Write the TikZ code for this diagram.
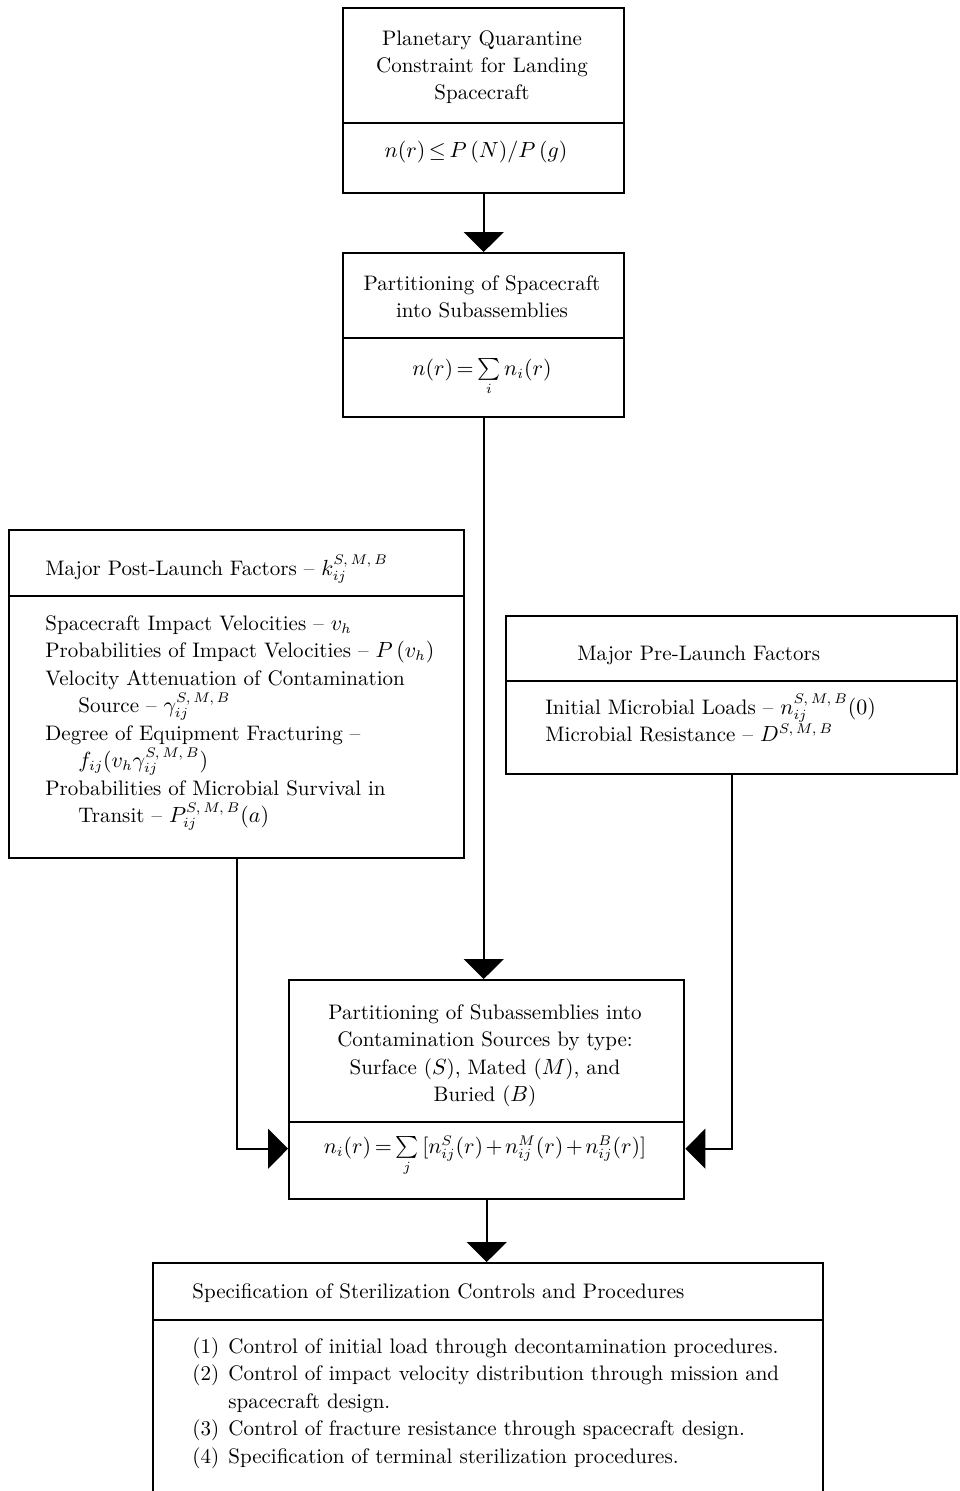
\documentclass[tikz,border=0pt]{standalone}
\usepackage{amsmath}
\usepackage{tikz}
\usetikzlibrary{arrows.meta}

\newcommand\boxfont{\fontsize{10.5}{13.75}\selectfont\lineskiplimit=-30pt\thickmuskip=3mu\medmuskip=2mu\relax}
\tikzset{
  frame/.style={draw,line width=2.4pt,inner sep=0pt,anchor=north west},
  divider/.style={line width=2.4pt},
  link/.style={line width=1.8pt,-{Triangle[width=40pt,length=20pt]}},
  ctxt/.style={inner sep=0pt,scale=2,anchor=base,text width=#1,align=center,font=\boxfont},
  ltxt/.style={inner sep=0pt,scale=2,anchor=base west,text width=#1,align=left,font=\boxfont},
}

\begin{document}
\begin{tikzpicture}[x=1pt,y=1pt]
  \useasboundingbox (0,0) rectangle (960,-1491);
  % boxes
  \node[frame,minimum width=281pt,minimum height=185pt] (quar) at (342,-7) {};
  \node[frame,minimum width=281pt,minimum height=164pt] (part) at (342,-252) {};
  \node[frame,minimum width=455pt,minimum height=328pt] (post) at (8,-529) {};
  \node[frame,minimum width=451pt,minimum height=158pt] (pre) at (505,-615) {};
  \node[frame,minimum width=395pt,minimum height=219pt] (subs) at (288,-979) {};
  \node[frame,minimum width=670pt,minimum height=240pt] (spec) at (152,-1262) {};
  \foreach \b/\y in {quar/123,part/338,post/596,pre/681,subs/1122,spec/1320}
    \draw[divider] (\b.west |- 0,-\y) -- (\b.east |- 0,-\y);
  % texts
  \node[ctxt=135pt] (quarhd) at (482,-45) {Planetary Quarantine\\Constraint for Landing\\Spacecraft};
  \node[ctxt=135pt] (quarfm) at (476,-157) {$n(r)\le P\,(N)/P\,(g)$};
  \node[ctxt=135pt] (parthd) at (482,-290) {Partitioning of Spacecraft\\into Subassemblies};
  \node[ctxt=135pt] (partfm) at (482,-375) {$n(r)=\sum\limits_i n_i(r)$};
  \node[ltxt=210pt] (posthd) at (45,-575) {Major Post-Launch Factors -- $k_{ij}^{S,\,M,\,B}$};
  \node[ltxt=210pt] (postbd) at (45,-630) {Spacecraft Impact Velocities -- $v_h$\\
    Probabilities of Impact Velocities -- $P\,(v_h)$\\
    Velocity Attenuation of Contamination\\
    \hspace*{16.5pt}Source -- $\gamma_{ij}^{S,\,M,\,B}$\\
    Degree of Equipment Fracturing --\\
    \hspace*{16.5pt}$f_{ij}(v_h\gamma_{ij}^{S,\,M,\,B})$\\
    Probabilities of Microbial Survival in\\
    \hspace*{16.5pt}Transit -- $P_{ij}^{S,\,M,\,B}(a)$};
  \node[ltxt=185pt] (prehd) at (577,-660) {Major Pre-Launch Factors};
  \node[ltxt=200pt] (prebd) at (545,-714) {Initial Microbial Loads -- $n_{ij}^{S,\,M,\,B}(0)$\\
    Microbial Resistance -- $D^{S,\,M,\,B}$};
  \node[ctxt=190pt] (subshd) at (485,-1019) {Partitioning of Subassemblies into\\
    Contamination Sources by type:\\Surface ($S$), Mated ($M$), and\\Buried ($B$)};
  \node[ctxt=195pt] (subsfm) at (485,-1153) {$n_i(r)=\sum\limits_j\,[n_{ij}^S(r)+n_{ij}^M(r)+n_{ij}^B(r)]$};
  \node[ltxt=312pt] (spechd) at (192,-1298) {Specification of Sterilization Controls and Procedures};
  \node[ltxt=312pt] (specbd) at (192,-1353) {\makebox[18pt][l]{(1)}Control of initial load through decontamination procedures.\\
    \makebox[18pt][l]{(2)}Control of impact velocity distribution through mission and\\
    \hspace*{18pt}spacecraft design.\\
    \makebox[18pt][l]{(3)}Control of fracture resistance through spacecraft design.\\
    \makebox[18pt][l]{(4)}Specification of terminal sterilization procedures.};
  % connectors
  \draw[link] (quar) -- (part);
  \draw[link] (part.south) -- (part.south |- subs.north);
  \draw[link] (post.south) |- (subsfm.mid -| subs.west);
  \draw[link] (pre.south) |- (subsfm.mid -| subs.east);
  \draw[link] (subs.south) -- (subs.south |- spec.north);
\end{tikzpicture}
\end{document}
